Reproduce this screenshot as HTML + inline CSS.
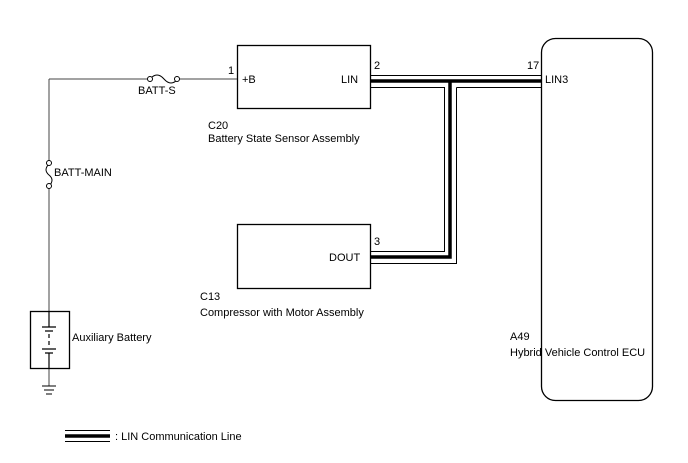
<!DOCTYPE html>
<html><head><style>body{margin:0;background:#fff}svg{display:block}text{font-family:"Liberation Sans",Arial,sans-serif;font-size:11px;fill:#000}</style></head>
<body><svg width="688" height="463" viewBox="0 0 688 463">
<g fill="none" stroke="#000">
<rect x="237.5" y="45.5" width="133" height="63" stroke-width="1.3"/>
<rect x="237.5" y="224.5" width="133" height="64" stroke-width="1.3"/>
<rect x="541.5" y="38.5" width="111" height="362" rx="14" stroke-width="1.3"/>
<path d="M49 79H150M178 79H237" stroke="#444"/>
<path d="M150 79q7-8 14 0t14 0" stroke="#000"/>
<circle cx="150" cy="79" r="2.5" fill="#fff"/><circle cx="177" cy="79" r="2.5" fill="#fff"/>
<path d="M49 79V162M49 186V311M49 368V386" stroke="#444"/>
<path d="M49 164q-6 6 0 11t0 11"/>
<circle cx="49" cy="163" r="2.5" fill="#fff"/><circle cx="49" cy="186" r="2.5" fill="#fff"/>
<rect x="30.5" y="311.5" width="39" height="57" stroke-width="1.3"/>
<path d="M49 311V327M42 327H56M45 331H53M49 334V338M49 341V345M42 349H56M45 353H53M49 353V368" stroke-width="1.2"/>
<path d="M42 386H56M44 390H54M46 394H52"/>
<path d="M371 75.5H541" stroke-width="1"/>
<path d="M371 81H541" stroke-width="3.5"/>
<path d="M371 87.5H444.5V251.5H371" stroke-width="1"/>
<path d="M456.5 87.5H541" stroke-width="1"/>
<path d="M450 81V257H371" stroke-width="3.5"/>
<path d="M456.5 87.5V263.5H371" stroke-width="1"/>
<path d="M65 430.5H110" stroke-width="1"/>
<path d="M65 436H110" stroke-width="3.5"/>
<path d="M65 441.5H110" stroke-width="1"/>
</g>
<text x="138" y="94">BATT-S</text>
<text x="54" y="176">BATT-MAIN</text>
<text x="228" y="74">1</text>
<text x="242" y="83">+B</text>
<text x="341" y="83">LIN</text>
<text x="374" y="69">2</text>
<text x="527" y="69">17</text>
<text x="545" y="83">LIN3</text>
<text x="208" y="129">C20</text>
<text x="208" y="142">Battery State Sensor Assembly</text>
<text x="374" y="245">3</text>
<text x="329" y="261">DOUT</text>
<text x="200" y="300">C13</text>
<text x="200" y="316">Compressor with Motor Assembly</text>
<text x="72" y="341">Auxiliary Battery</text>
<text x="510" y="340">A49</text>
<text x="510" y="356">Hybrid Vehicle Control ECU</text>
<text x="115" y="440">: LIN Communication Line</text>
</svg></body></html>
